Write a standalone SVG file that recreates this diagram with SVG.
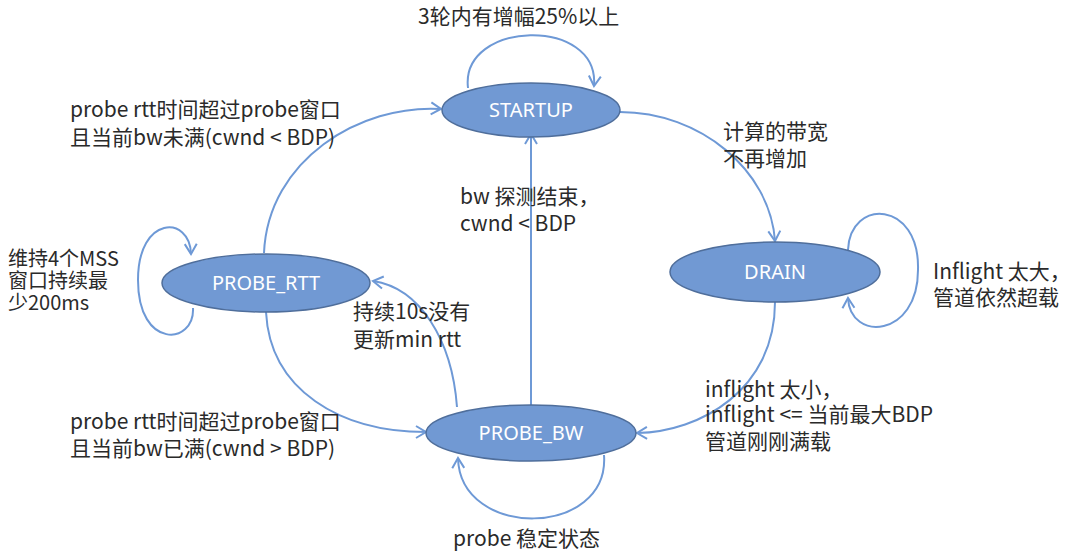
<svg xmlns="http://www.w3.org/2000/svg" width="1080" height="556" viewBox="0 0 1080 556">
<defs>
<style>
.node{fill:#7199d3;stroke:#4f6e9b;stroke-width:1.5}
.nt{font-family:"Noto Sans","Noto Sans CJK SC",sans-serif;font-size:20px;fill:#ffffff;text-anchor:middle}
.edge{fill:none;stroke:#6e99d6;stroke-width:2}
.lb{font-family:"Noto Sans CJK SC","Noto Sans",sans-serif;font-size:21px;fill:#2a2a2a}
.sm{font-size:20px}
</style>
<marker id="arr" markerUnits="userSpaceOnUse" markerWidth="16" markerHeight="16" viewBox="0 0 16 16" refX="13" refY="8" orient="auto">
<path d="M3,2 L13,8 L3,14" fill="none" stroke="#6e99d6" stroke-width="2"/>
</marker>
</defs>
<rect width="1080" height="556" fill="#ffffff"/>
<g id="connectors">
<path class="edge" d="M468 88 C460 20,600 16,594 86" marker-end="url(#arr)"/>
<path class="edge" d="M264 253 C268 160,360 104,441 109" marker-end="url(#arr)"/>
<path class="edge" d="M620 112 C700 112,770 170,775 241" marker-end="url(#arr)"/>
<path class="edge" d="M848 250 C850 198,920 200,918 270 C918 338,850 342,848 298" marker-end="url(#arr)"/>
<path class="edge" d="M775 302 C775 390,700 432,637 433" marker-end="url(#arr)"/>
<path class="edge" d="M531 405 L531 134" marker-end="url(#arr)"/>
<path class="edge" d="M457 407 C452 340,420 288,373 281" marker-end="url(#arr)"/>
<path class="edge" d="M266 312 C270 390,340 432,426 432" marker-end="url(#arr)"/>
<path class="edge" d="M604 455 C610 538,460 540,458 458" marker-end="url(#arr)"/>
<path class="edge" d="M193 308 C195 345,138 350,138 280 C138 215,190 215,191 254" marker-end="url(#arr)"/>
</g>
<g id="STARTUP"><ellipse class="node" cx="531" cy="110" rx="89" ry="27"/><text class="nt" x="531" y="117">STARTUP</text></g>
<g id="PROBE_RTT"><ellipse class="node" cx="266" cy="283" rx="104" ry="29"/><text class="nt" x="266" y="290">PROBE_RTT</text></g>
<g id="DRAIN"><ellipse class="node" cx="775" cy="272" rx="105" ry="30"/><text class="nt" x="775" y="279">DRAIN</text></g>
<g id="PROBE_BW"><ellipse class="node" cx="531" cy="433" rx="105" ry="28"/><text class="nt" x="531" y="440">PROBE_BW</text></g>
<g id="labels">
<text class="lb" x="418" y="24">3轮内有增幅25%以上</text>
<text class="lb" x="70" y="117">probe rtt时间超过probe窗口</text>
<text class="lb" x="70" y="145">且当前bw未满(cwnd &lt; BDP)</text>
<text class="lb" x="723" y="139">计算的带宽</text>
<text class="lb" x="723" y="166">不再增加</text>
<text class="lb" x="460" y="204">bw 探测结束，</text>
<text class="lb" x="460" y="231">cwnd &lt; BDP</text>
<text class="lb sm" x="8" y="266">维持4个MSS</text>
<text class="lb sm" x="8" y="288">窗口持续最</text>
<text class="lb sm" x="8" y="310">少200ms</text>
<text class="lb" x="933" y="279">Inflight 太大，</text>
<text class="lb" x="933" y="305">管道依然超载</text>
<text class="lb" x="353" y="319">持续10s没有</text>
<text class="lb" x="353" y="347">更新min rtt</text>
<text class="lb" x="705" y="397">inflight 太小，</text>
<text class="lb" x="705" y="422">inflight &lt;= 当前最大BDP</text>
<text class="lb" x="705" y="449">管道刚刚满载</text>
<text class="lb" x="70" y="429">probe rtt时间超过probe窗口</text>
<text class="lb" x="70" y="456">且当前bw已满(cwnd &gt; BDP)</text>
<text class="lb" x="453" y="546">probe 稳定状态</text>
</g>
</svg>
